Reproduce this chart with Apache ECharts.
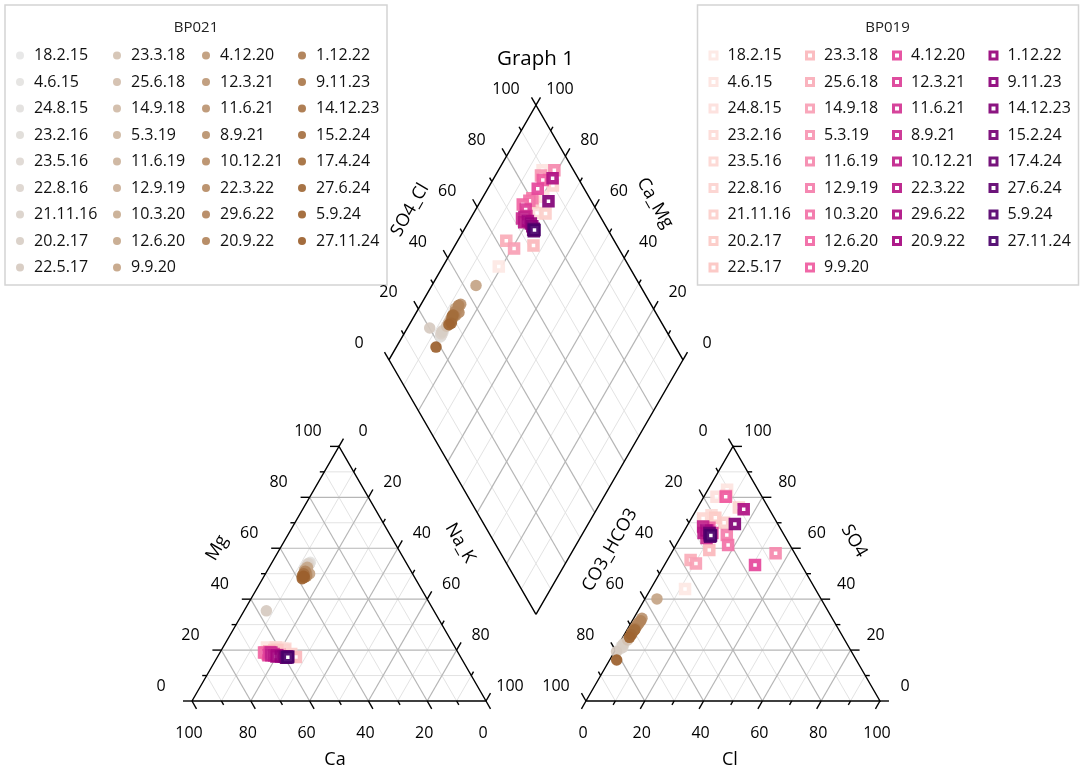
<!DOCTYPE html>
<html><head><meta charset="utf-8">
<script src="https://cdn.jsdelivr.net/npm/echarts@6/dist/echarts.min.js"></script>
<style>html,body{margin:0;padding:0;background:#fff}#c{width:1085px;height:773px}</style>
</head><body><div id="c"></div>
<script>
// ---------------- DATA ----------------
const dates = ['18.2.15','4.6.15','24.8.15','23.2.16','23.5.16','22.8.16','21.11.16','20.2.17','22.5.17',
  '23.3.18','25.6.18','14.9.18','5.3.19','11.6.19','12.9.19','10.3.20','12.6.20','9.9.20',
  '4.12.20','12.3.21','11.6.21','8.9.21','10.12.21','22.3.22','29.6.22','20.9.22',
  '1.12.22','9.11.23','14.12.23','15.2.24','17.4.24','27.6.24','5.9.24','27.11.24'];

// BP021 (% meq)
const bp021Ca  = [33,32.5,33.5,33,34,33.5,34,35,57, 35,35.5,36,35,36.5,35.5,36,34.5,35, 36,36.5,37,36,37,36.5,37.5,36, 37,37.5,38,37,38,37.5,38.5,37.5];
const bp021Mg  = [54,54.5,53.5,54,53,54,53.5,52.5,35.4, 52,51.5,51,52,50.5,51,51.5,52.5,50, 50.5,50,49.5,50,50,49,49.5,51, 49.5,49,48.5,50,49,48.5,48,49];
const bp021SO4 = [21,22,21.5,20.5,21,22.5,21,22,19.4, 24,26,27,25,28,29,30,31,40.1, 30,31,32.5,29,28,30.5,29.5,31.5, 28.5,27,26.5,27.5,28,26,25,16.1];
const bp021Cl  = [1.5,1.8,1.2,1.5,2,1.5,1.8,1.5,0.7, 2.2,2.5,2.3,2.4,2.5,2.6,2.7,2.8,4.1, 2.5,2.6,2.8,2.4,2.3,2.6,2.5,2.9, 2.4,2.3,2.2,2.5,2.6,2.4,2.3,2.4];

// BP019 (% meq)
const bp019Ca  = [60,64,59,58,61,58.5,57,62,61, 56,64,61,65.5,63,64,65,66,64.5, 65,64,63,63.5,64,63,62,62.5, 61,60,59.5,59,59.5,58.5,59,58.8];
const bp019Mg  = [21,21,20.5,20.5,21,20,18.5,20,20, 17.3,19.5,18.3,19,18,19,18.5,19,18.5, 18,19,18.5,19,18,18,18,17.5, 17.5,17.5,17.4,17.5,17,17.5,17.2,17.2];
const bp019SO4 = [44,83,80.2,73,71.7,76,70,72,68, 59.3,55.4,54,80.5,58,65.2,61.3,68,80.25, 53.4,66,67,64,68.5,66,75.3,67, 66,65,69.5,65,66,64.5,65.2,65];
const bp019Cl  = [11.7,6.5,4.3,6.2,4,14,12,8,6, 12.3,7.9,10.4,7.4,35.5,15.3,17.7,8,7.4, 30.8,10,8,9,5.6,7,16,7.5, 9,10,15.9,9.6,9,10,9.6,10];

const tickValues = [0,20,40,60,80,100];

// ---------------- GEOMETRY ----------------
const S = 2.94, OX = 192, OY = 701, GAP = 34, H = Math.sqrt(3)/2;
const W = 1085, HH = 773;
const FONT = 'Open Sans';
function cat(ca, mg){ return [100 - ca - mg/2, mg*H]; }
function an(cl, so4){ return [100 + GAP + cl + so4/2, so4*H]; }
const BX = 100 + GAP/2, BY = GAP/2*Math.sqrt(3);
function dia(s, t){ return [BX + (t - s)/2, BY + (s + t)*H]; }
function toPx(p){ return [OX + p[0]*S, OY - p[1]*S]; }

// ---------------- STYLE ----------------
function hex2rgb(h){ return [parseInt(h.slice(1,3),16),parseInt(h.slice(3,5),16),parseInt(h.slice(5,7),16)]; }
function ramp(stops, n){
  const out=[];
  for(let i=0;i<n;i++){
    let k=0; while(k<stops.length-2 && i>stops[k+1][0]) k++;
    const [i0,c0]=stops[k], [i1,c1]=stops[k+1];
    const f = i1===i0?0:(i-i0)/(i1-i0);
    const a=hex2rgb(c0), b=hex2rgb(c1);
    out.push('rgb('+a.map((v,j)=>Math.round(v+(b[j]-v)*f)).join(',')+')');
  }
  return out;
}
const col021 = ramp([[0,'#e6e6e6'],[8,'#d6cac0'],[9,'#d4c2b2'],[17,'#c4a486'],[18,'#bf9b7a'],[25,'#b2845b'],[26,'#ad7c50'],[33,'#9b602c']], 34);
const col019 = ramp([[0,'#fde8e4'],[8,'#fcc6c2'],[9,'#fbb7bc'],[17,'#ef5ba0'],[18,'#e5479b'],[25,'#a6067f'],[26,'#97017b'],[33,'#4a006a']], 34);

// ---------------- LINES ----------------
const major=[], minor=[], black=[];
for (let v=10; v<100; v+=10){
  const arr = (v%20===0) ? major : minor;
  arr.push([cat(100-v, v), cat(0, v)]);
  arr.push([cat(v, 0), cat(v, 100-v)]);
  arr.push([cat(100-v, 0), cat(0, 100-v)]);
  arr.push([an(0, v), an(100-v, v)]);
  arr.push([an(v, 0), an(v, 100-v)]);
  arr.push([an(100-v, 0), an(0, 100-v)]);
  arr.push([dia(v, 0), dia(v, 100)]);
  arr.push([dia(0, v), dia(100, v)]);
}
black.push([cat(100,0), cat(0,0), cat(0,100), cat(100,0)]);
black.push([an(0,0), an(100,0), an(0,100), an(0,0)]);
black.push([dia(0,0), dia(100,0), dia(100,100), dia(0,100), dia(0,0)]);
function tick(p, d, len){ return [p, [p[0]+d[0]*len/S, p[1]+d[1]*len/S]]; }
for (let v=0; v<=100; v+=10){
  const len = (v%20===0) ? 9 : 4.5;
  black.push(tick(cat(v,0), [0.5,-H], len));
  black.push(tick(cat(100-v,v), [-1,0], len));
  black.push(tick(cat(0,100-v), [0.5,H], len));
  black.push(tick(an(v,0), [-0.5,-H], len));
  black.push(tick(an(100-v,v), [1,0], len));
  black.push(tick(an(0,100-v), [-0.5,H], len));
  black.push(tick(dia(100,v), [-0.5,H], len));
  black.push(tick(dia(v,100), [0.5,H], len));
}
function linesSeries(list, color, width){
  return {type:'lines', coordinateSystem:'cartesian2d', polyline:true, silent:true, z:1,
    lineStyle:{color:color, width:width, opacity:1},
    data:list.map(c=>({coords:c}))};
}

// ---------------- LABELS ----------------
const tickLabels=[];
tickValues.forEach(v=>{
  tickLabels.push({p:cat(v,0), t:String(v), off:[-3,32]});
  tickLabels.push({p:cat(100-v,v), t:String(v), off:[-31,-15]});
  tickLabels.push({p:cat(0,100-v), t:String(v), off:[24,-15]});
  tickLabels.push({p:an(v,0), t:String(v), off:[-3,32]});
  tickLabels.push({p:an(100-v,v), t:String(v), off:[25,-15]});
  tickLabels.push({p:an(0,100-v), t:String(v), off:[-30,-15]});
  tickLabels.push({p:dia(100,v), t:String(v), off:[-30,-16]});
  tickLabels.push({p:dia(v,100), t:String(v), off:[24,-16]});
});
const titleLabels=[
  {p:cat(50,50), t:'Mg', off:[-48.5,-25.7], r:60},
  {p:cat(0,50), t:'Na_K', off:[47.5,-30.7], r:-60},
  {p:cat(50,0), t:'Ca', off:[-4,59], r:0},
  {p:an(0,50), t:'CO3_HCO3', off:[-49.5,-23.7], r:60},
  {p:an(50,50), t:'SO4', off:[47.5,-32.7], r:-60},
  {p:an(50,0), t:'Cl', off:[-3,59], r:0},
  {p:dia(100,50), t:'SO4_Cl', off:[-52.5,-22.5], r:60},
  {p:dia(50,100), t:'Ca_Mg', off:[45.5,-29.5], r:-60}
];
function textGraphic(it, size){
  const q = toPx(it.p);
  return {type:'text', x:q[0]+it.off[0], y:q[1]+it.off[1], rotation:(it.r||0)*Math.PI/180, z:20,
    style:{text:it.t, fontSize:size, fontFamily:FONT, fill:'#000', align:'center', verticalAlign:'middle', textAlign:'center', textVerticalAlign:'middle'}};
}
const labelGraphics = tickLabels.map(it=>textGraphic(it,16)).concat(titleLabels.map(it=>textGraphic(it,18)));

// ---------------- SAMPLES ----------------
const series=[linesSeries(minor,'#e3e3e3',1), linesSeries(major,'#b6b6b6',1.2), linesSeries(black,'#000',1.4)];
dates.forEach((d,i)=>{
  const ca=bp021Ca[i], mg=bp021Mg[i], so4=bp021SO4[i], cl=bp021Cl[i];
  series.push({type:'scatter', name:'BP021 '+d, z:5, symbol:'circle', symbolSize:11.5,
    itemStyle:{color:col021[i], opacity:0.92},
    data:[cat(ca,mg), an(cl,so4), dia(ca+mg, so4+cl)]});
});
dates.forEach((d,i)=>{
  const ca=bp019Ca[i], mg=bp019Mg[i], so4=bp019SO4[i], cl=bp019Cl[i];
  series.push({type:'scatter', name:'BP019 '+d, z:6, symbol:'rect', symbolSize:8,
    itemStyle:{color:'#fff', borderColor:col019[i], borderWidth:4.5, opacity:0.92},
    data:[cat(ca,mg), an(cl,so4), dia(ca+mg, so4+cl)]});
});

// ---------------- LEGENDS ----------------
const colRanges=[[0,9],[9,18],[18,26],[26,34]];
const leftX021=[16,113,202,298], leftX019=[708.5,805,892,988.5];
const legends=[];
colRanges.forEach((r,k)=>{
  legends.push({orient:'vertical', left:leftX021[k], top:45.5, padding:0, itemGap:6.5, itemWidth:18, itemHeight:8,
    icon:'circle', selectedMode:false, formatter:n=>n.slice(6),
    itemStyle:{borderWidth:0},
    textStyle:{fontSize:16, fontFamily:FONT, color:'#111', lineHeight:20},
    data:dates.slice(r[0],r[1]).map(d=>'BP021 '+d)});
  legends.push({orient:'vertical', left:leftX019[k], top:45.5, padding:0, itemGap:6.5, itemWidth:18, itemHeight:7,
    icon:'path://M0,0L10,0L10,10L0,10Z', symbolKeepAspect:true, selectedMode:false, formatter:n=>n.slice(6),
    itemStyle:{borderWidth:3},
    textStyle:{fontSize:16, fontFamily:FONT, color:'#111', lineHeight:20},
    data:dates.slice(r[0],r[1]).map(d=>'BP019 '+d)});
});

const chart = echarts.init(document.getElementById('c'));
chart.setOption({
  animation:false,
  backgroundColor:'#fff',
  grid:{left:0,right:0,top:0,bottom:0},
  xAxis:{type:'value', show:false, min:-OX/S, max:(W-OX)/S, splitLine:{show:false}},
  yAxis:{type:'value', show:false, min:-(HH-OY)/S, max:OY/S, splitLine:{show:false}},
  legend:legends,
  graphic:[
    {type:'rect', shape:{x:5,y:5,width:382,height:280}, style:{fill:'none', stroke:'#d4d4d4', lineWidth:1.5}, z:0},
    {type:'rect', shape:{x:697.5,y:5,width:381,height:280}, style:{fill:'none', stroke:'#d4d4d4', lineWidth:1.5}, z:0},
    {type:'text', x:196, y:28, style:{text:'BP021', fontSize:15, fontFamily:FONT, fill:'#222', align:'center', verticalAlign:'middle', textAlign:'center', textVerticalAlign:'middle'}},
    {type:'text', x:887.5, y:28, style:{text:'BP019', fontSize:15, fontFamily:FONT, fill:'#222', align:'center', verticalAlign:'middle', textAlign:'center', textVerticalAlign:'middle'}},
    {type:'text', x:535.5, y:59, style:{text:'Graph 1', fontSize:20.5, fontFamily:FONT, fill:'#000', align:'center', verticalAlign:'middle', textAlign:'center', textVerticalAlign:'middle'}}
  ].concat(labelGraphics),
  series:series
});
</script></body></html>
